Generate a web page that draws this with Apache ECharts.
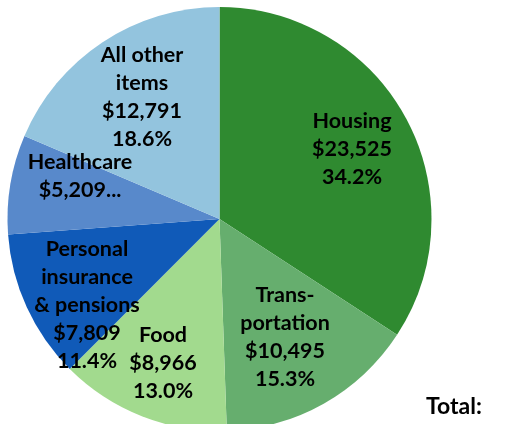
<!DOCTYPE html>
<html>
<head>
<meta charset="utf-8">
<script src="https://cdn.jsdelivr.net/npm/echarts@6/dist/echarts.min.js"></script>
<style>
  html, body { margin: 0; padding: 0; background: #fff; }
  #chart { width: 507px; height: 424px; }
</style>
</head>
<body>
<div id="chart"></div>
<script>
const categories = ['Housing', 'Trans-\nportation', 'Food', 'Personal\ninsurance\n& pensions', 'Healthcare', 'All other\nitems'];
const values = [23525, 10495, 8966, 7809, 5209, 12791];
const percents = ['34.2%', '15.3%', '13.0%', '11.4%', '7.6%', '18.6%'];
const colors = ['#2f8a30', '#66ae6e', '#a2da8e', '#105ab8', '#5889cb', '#93c4de'];

// where each label sits (centre of the text block)
const labelPos = [[352, 149], [285, 337], [163, 363], [87, 305], [80, 176], [142, 97]];

const fmt = v => '$' + v.toLocaleString('en-US');

const chart = echarts.init(document.getElementById('chart'));
chart.setOption({
  animation: false,
  graphic: [{
    type: 'text',
    left: 426,
    top: 395,
    style: { text: 'Total:', font: 'bold 23px Lato', fill: '#000' }
  }],
  series: [{
    type: 'pie',
    center: [219.5, 219],
    radius: 212,
    startAngle: 90,
    clockwise: true,
    silent: true,
    itemStyle: { borderWidth: 0 },
    label: {
      show: true,
      position: 'inside',
      color: '#000',
      fontFamily: 'Lato',
      fontWeight: 'bold',
      fontSize: 21.5,
      lineHeight: 28,
      align: 'center',
      formatter(p) {
        const i = p.dataIndex;
        if (i === 4) return categories[i] + '\n' + fmt(values[i]) + '...';
        return categories[i] + '\n' + fmt(values[i]) + '\n' + percents[i];
      }
    },
    labelLine: { show: false },
    labelLayout(params) {
      const pos = labelPos[params.dataIndex];
      return { x: pos[0], y: pos[1], align: 'center', verticalAlign: 'middle' };
    },
    data: categories.map((c, i) => ({
      name: c,
      value: values[i],
      itemStyle: { color: colors[i] }
    }))
  }]
});
</script>
</body>
</html>
